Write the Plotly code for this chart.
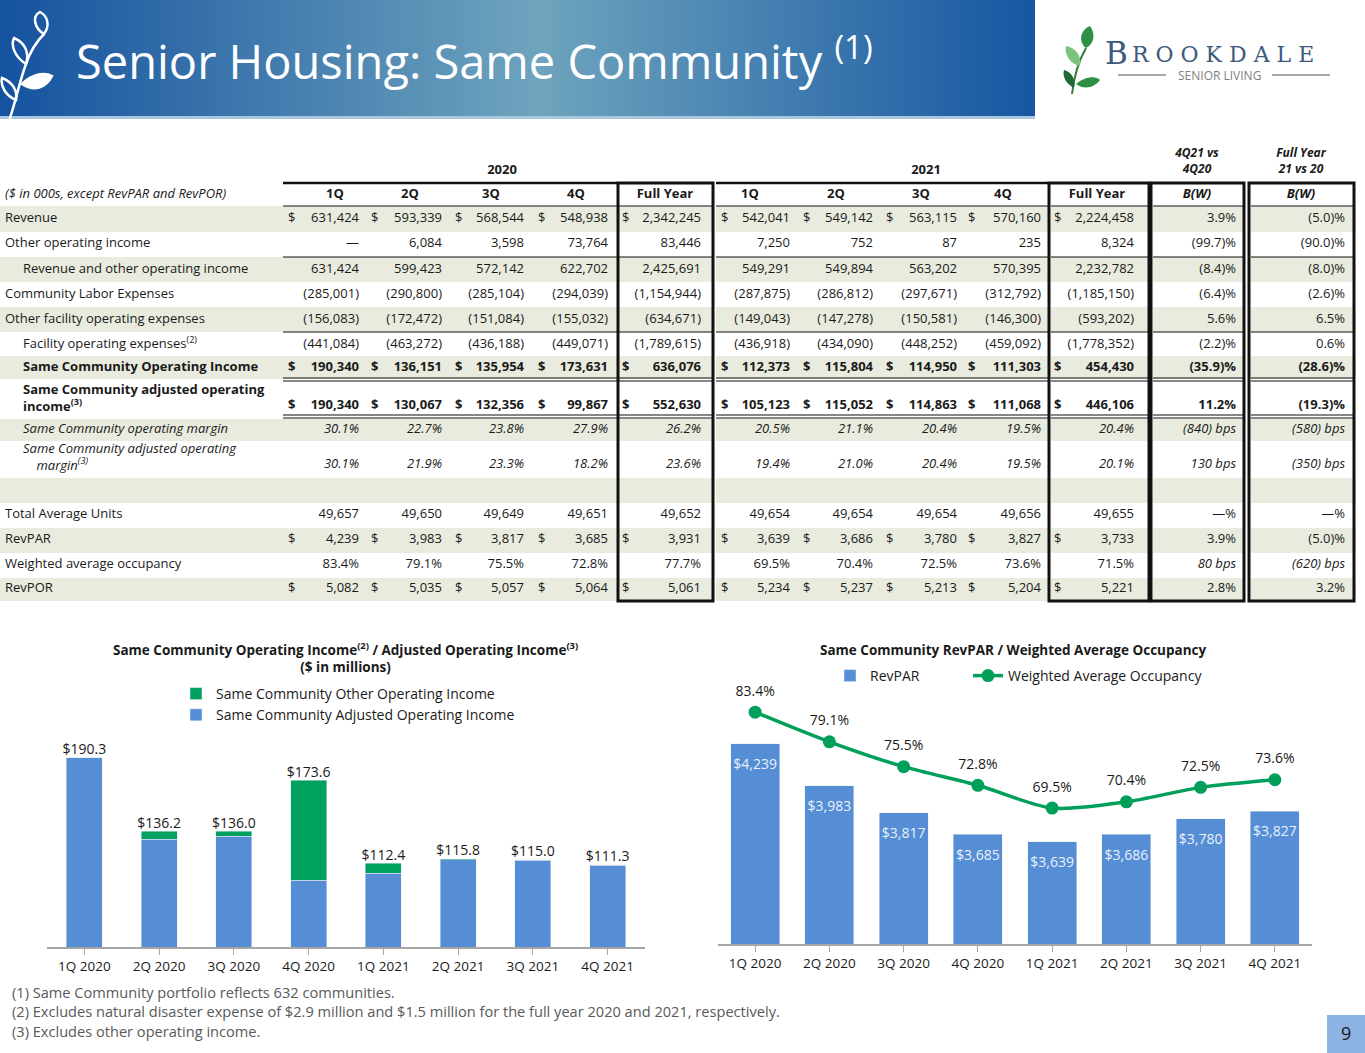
import base64
import plotly.graph_objects as go

W, H = 1365, 1053
FONT = "Open Sans"
DARK = "#1a1a1a"
BLUE = "#558ed5"
GREEN = "#00a05a"
SHADE = "#e8ebdd"

# ---- chart data ----
quarters = ["1Q 2020", "2Q 2020", "3Q 2020", "4Q 2020", "1Q 2021", "2Q 2021", "3Q 2021", "4Q 2021"]
adj_op_income = [190.3, 130.1, 132.4, 99.9, 105.1, 115.1, 114.9, 111.1]
other_op_income = [0.0, 6.1, 3.6, 73.8, 7.3, 0.8, 0.1, 0.2]
op_income_total = [190.3, 136.2, 136.0, 173.6, 112.4, 115.8, 115.0, 111.3]
revpar = [4239, 3983, 3817, 3685, 3639, 3686, 3780, 3827]
occupancy = [83.4, 79.1, 75.5, 72.8, 69.5, 70.4, 72.5, 73.6]

# ---- table data ----
col_headers = ["1Q", "2Q", "3Q", "4Q", "Full Year", "1Q", "2Q", "3Q", "4Q", "Full Year", "B(W)", "B(W)"]
revenue = ["631,424", "593,339", "568,544", "548,938", "2,342,245", "542,041", "549,142", "563,115", "570,160", "2,224,458", "3.9%", "(5.0)%"]
other_income = ["—", "6,084", "3,598", "73,764", "83,446", "7,250", "752", "87", "235", "8,324", "(99.7)%", "(90.0)%"]
rev_and_other = ["631,424", "599,423", "572,142", "622,702", "2,425,691", "549,291", "549,894", "563,202", "570,395", "2,232,782", "(8.4)%", "(8.0)%"]
labor_exp = ["(285,001)", "(290,800)", "(285,104)", "(294,039)", "(1,154,944)", "(287,875)", "(286,812)", "(297,671)", "(312,792)", "(1,185,150)", "(6.4)%", "(2.6)%"]
other_facility_exp = ["(156,083)", "(172,472)", "(151,084)", "(155,032)", "(634,671)", "(149,043)", "(147,278)", "(150,581)", "(146,300)", "(593,202)", "5.6%", "6.5%"]
facility_exp = ["(441,084)", "(463,272)", "(436,188)", "(449,071)", "(1,789,615)", "(436,918)", "(434,090)", "(448,252)", "(459,092)", "(1,778,352)", "(2.2)%", "0.6%"]
sc_op_income = ["190,340", "136,151", "135,954", "173,631", "636,076", "112,373", "115,804", "114,950", "111,303", "454,430", "(35.9)%", "(28.6)%"]
sc_adj_income = ["190,340", "130,067", "132,356", "99,867", "552,630", "105,123", "115,052", "114,863", "111,068", "446,106", "11.2%", "(19.3)%"]
sc_margin = ["30.1%", "22.7%", "23.8%", "27.9%", "26.2%", "20.5%", "21.1%", "20.4%", "19.5%", "20.4%", "(840) bps", "(580) bps"]
sc_adj_margin = ["30.1%", "21.9%", "23.3%", "18.2%", "23.6%", "19.4%", "21.0%", "20.4%", "19.5%", "20.1%", "130 bps", "(350) bps"]
avg_units = ["49,657", "49,650", "49,649", "49,651", "49,652", "49,654", "49,654", "49,654", "49,656", "49,655", "—%", "—%"]
revpar_row = ["4,239", "3,983", "3,817", "3,685", "3,931", "3,639", "3,686", "3,780", "3,827", "3,733", "3.9%", "(5.0)%"]
occupancy_row = ["83.4%", "79.1%", "75.5%", "72.8%", "77.7%", "69.5%", "70.4%", "72.5%", "73.6%", "71.5%", "80 bps", "(620) bps"]
revpor_row = ["5,082", "5,035", "5,057", "5,064", "5,061", "5,234", "5,237", "5,213", "5,204", "5,221", "2.8%", "3.2%"]

# table layout (pixel space, y down)
right_edge = [359, 442, 524, 608, 701, 790, 873, 957, 1041, 1134, 1236, 1345]
dollar_x = [288, 371, 455, 538, 622, 721, 803, 886, 968, 1054]
header_x = [335, 410, 491, 576, 665, 750, 836, 921, 1003, 1097, 1197, 1301]

# (label, values, label_y, value_y, indent, style, dollar, shaded band, bw italic)
rows = [
    ("Revenue", revenue, 219, 219, 5, "", True, (206, 232), False),
    ("Other operating income", other_income, 244, 244, 5, "", False, None, False),
    ("Revenue and other operating income", rev_and_other, 270, 270, 23, "", False, (257, 282), False),
    ("Community Labor Expenses", labor_exp, 295, 295, 5, "", False, None, False),
    ("Other facility operating expenses", other_facility_exp, 320, 320, 5, "", False, (307, 332), False),
    ("Facility operating expenses<sup>(2)</sup>", facility_exp, 345, 345, 23, "", False, None, False),
    ("Same Community Operating Income", sc_op_income, 368, 368, 23, "b", True, (356, 379), False),
    ("Same Community adjusted operating<br>income<sup>(3)</sup>", sc_adj_income, 399, 406, 23, "b", True, None, False),
    ("Same Community operating margin", sc_margin, 430, 430, 23, "i", False, (419, 441), True),
    ("Same Community adjusted operating<br>\u00a0\u00a0\u00a0\u00a0margin<sup>(3)</sup>", sc_adj_margin, 458, 465, 23, "i", False, None, True),
    ("", None, 490, 490, 5, "", False, (478, 503), False),
    ("Total Average Units", avg_units, 515, 515, 5, "", False, None, False),
    ("RevPAR", revpar_row, 540, 540, 5, "", True, (528, 553), False),
    ("Weighted average occupancy", occupancy_row, 565, 565, 5, "", False, None, True),
    ("RevPOR", revpor_row, 589, 589, 5, "", True, (578, 601), False),
]


def px(x):
    return x / W


def py(y):
    return 1 - y / H


def tag(s, style):
    if style == "b":
        return "<b>" + s + "</b>"
    if style == "i":
        return "<i>" + s + "</i>"
    return s


fig = go.Figure()

# ---- left chart: operating income ----
fig.add_trace(go.Bar(x=quarters, y=adj_op_income, name="Same Community Adjusted Operating Income",
                     marker_color=BLUE, width=0.48, legend="legend", legendrank=2,
                     xaxis="x", yaxis="y"))
fig.add_trace(go.Bar(x=quarters, y=other_op_income, name="Same Community Other Operating Income",
                     marker_color="#00a15f", width=0.48, legend="legend", legendrank=1,
                     xaxis="x", yaxis="y"))
fig.add_trace(go.Scatter(x=quarters, y=op_income_total, mode="text", cliponaxis=False,
                         text=["$%.1f" % v for v in op_income_total], textposition="top center",
                         textfont=dict(size=14, color=DARK), showlegend=False, xaxis="x", yaxis="y"))

# ---- right chart: RevPAR / occupancy ----
fig.add_trace(go.Bar(x=quarters, y=revpar, name="RevPAR", marker_color=BLUE, width=0.66,
                     legend="legend2", xaxis="x2", yaxis="y2"))
fig.add_trace(go.Scatter(x=quarters, y=revpar, mode="markers+text", cliponaxis=False,
                         marker=dict(size=22, opacity=0), text=["$" + format(v, ",") for v in revpar],
                         textposition="bottom center", textfont=dict(size=14, color="#eaf0fa"),
                         showlegend=False, xaxis="x2", yaxis="y2"))
fig.add_trace(go.Scatter(x=quarters, y=occupancy, mode="lines+markers", name="Weighted Average Occupancy",
                         line=dict(color=GREEN, width=3.5, shape="spline", smoothing=0.8),
                         marker=dict(size=13, color=GREEN), legend="legend3",
                         cliponaxis=False, xaxis="x2", yaxis="y3"))
fig.add_trace(go.Scatter(x=quarters, y=occupancy, mode="markers+text", cliponaxis=False,
                         marker=dict(size=19, opacity=0), text=["%.1f%%" % v for v in occupancy],
                         textposition="top center", textfont=dict(size=14, color=DARK),
                         showlegend=False, xaxis="x2", yaxis="y3"))

# ---- table text ----
tbl = dict(xaxis="x4", yaxis="y4", mode="text", showlegend=False, cliponaxis=False)
TF = 13

lab_x, lab_y, lab_t = [], [], []
for label, vals, ly, vy, ind, st, dol, band, bwi in rows:
    if label:
        lab_x.append(ind)
        lab_y.append(ly)
        lab_t.append(tag(label, st))
lab_x.append(5)
lab_y.append(195)
lab_t.append("<i>($ in 000s, except RevPAR and RevPOR)</i>")
fig.add_trace(go.Scatter(x=lab_x, y=lab_y, text=lab_t, textposition="middle right",
                         textfont=dict(size=TF, color=DARK), **tbl))

for j, xr in enumerate(right_edge):
    xs, ys, ts = [], [], []
    for label, vals, ly, vy, ind, st, dol, band, bwi in rows:
        if vals is None:
            continue
        s = st
        if j >= 10 and bwi:
            s = "i"
        xs.append(xr)
        ys.append(vy)
        ts.append(tag(vals[j], s))
    fig.add_trace(go.Scatter(x=xs, y=ys, text=ts, textposition="middle left",
                             textfont=dict(size=TF, color=DARK), **tbl))

dx, dy, dt = [], [], []
for label, vals, ly, vy, ind, st, dol, band, bwi in rows:
    if dol:
        for xd in dollar_x:
            dx.append(xd)
            dy.append(vy)
            dt.append(tag("$", st))
fig.add_trace(go.Scatter(x=dx, y=dy, text=dt, textposition="middle right",
                         textfont=dict(size=TF, color=DARK), **tbl))

hdr_t = ["<b>%s</b>" % h if k < 10 else "<b><i>%s</i></b>" % h for k, h in enumerate(col_headers)]
fig.add_trace(go.Scatter(x=header_x + [502, 926],
                         y=[195] * 12 + [171, 171],
                         text=hdr_t + ["<b>2020</b>", "<b>2021</b>"],
                         textposition="middle center", textfont=dict(size=TF, color=DARK), **tbl))
fig.add_trace(go.Scatter(x=[1197, 1301], y=[162, 162],
                         text=["<b><i>4Q21 vs<br>4Q20</i></b>", "<b><i>Full Year<br>21 vs 20</i></b>"],
                         textposition="middle center", textfont=dict(size=12, color=DARK), **tbl))

# ---- shapes ----
shapes = []
segments = [(0, 617), (619, 712), (716, 1048), (1051, 1148), (1153, 1243), (1251, 1353)]
for label, vals, ly, vy, ind, st, dol, band, bwi in rows:
    if band:
        for a, b in segments:
            shapes.append(dict(type="rect", xref="x4", yref="y4", x0=a, x1=b, y0=band[0], y1=band[1],
                               fillcolor=SHADE, line_width=0, layer="below"))

line_segs = [(283, 617), (619, 712), (716, 1048), (1051, 1148), (1153, 1243), (1251, 1353)]
for yl, w in [(206, 1), (257, 1.2), (332, 1.2), (378, 1.2), (381, 1.2), (415, 1.2), (418, 1.2)]:
    for a, b in line_segs:
        shapes.append(dict(type="line", xref="x4", yref="y4", x0=a, x1=b, y0=yl, y1=yl,
                           line=dict(color="#111111", width=w)))
for a, b in [(283, 617), (716, 1048)]:
    shapes.append(dict(type="line", xref="x4", yref="y4", x0=a, x1=b, y0=183, y1=183,
                       line=dict(color="#111111", width=2.5)))
for a, b in [(618, 713), (1049, 1149), (1151, 1244), (1249, 1354)]:
    shapes.append(dict(type="rect", xref="x4", yref="y4", x0=a, x1=b, y0=183, y1=601,
                       line=dict(color="#111111", width=3)))

# logo rules and page box
shapes.append(dict(type="line", xref="x4", yref="y4", x0=1118, x1=1166, y0=75, y1=75,
                   line=dict(color="#8c8c8c", width=1.5)))
shapes.append(dict(type="line", xref="x4", yref="y4", x0=1272, x1=1330, y0=75, y1=75,
                   line=dict(color="#8c8c8c", width=1.5)))
shapes.append(dict(type="rect", xref="x4", yref="y4", x0=1327, x1=1365, y0=1015, y1=1053,
                   fillcolor="#8db3e2", line_width=0))

# ---- banner graphics (decorative) ----
banner_svg = """<svg xmlns='http://www.w3.org/2000/svg' width='1035' height='120' viewBox='0 0 1035 120'>
<defs><linearGradient id='g' x1='0' x2='1' y1='0' y2='0'>
<stop offset='0' stop-color='#15529f'/><stop offset='0.52' stop-color='#6ea4bd'/>
<stop offset='1' stop-color='#1656a2'/></linearGradient></defs>
<rect width='1035' height='117' fill='url(#g)'/>
<rect y='116' width='1035' height='3' fill='#a9c7dc'/>
<g fill='none' stroke='white' stroke-width='2.5' stroke-linecap='round'>
<path d='M10 118 C 16 100, 20 80, 26 64 C 30 52, 36 42, 44 34'/>
<path d='M44 34 C 34 28, 32 16, 40 12 C 48 16, 50 26, 44 34 Z'/>
<path d='M26 64 C 16 58, 10 46, 14 38 C 24 42, 30 52, 26 64 Z'/>
<path d='M22 84 C 32 74, 44 72, 52 76 C 46 88, 34 92, 22 84 Z' fill='white'/>
<path d='M16 100 C 6 96, 0 86, 2 78 C 12 82, 18 90, 16 100 Z'/>
</g></svg>"""
logo_svg = """<svg xmlns='http://www.w3.org/2000/svg' width='40' height='70' viewBox='0 0 40 70'>
<path d='M10 68 C 12 50, 16 36, 24 22' fill='none' stroke='#2e7d3a' stroke-width='2'/>
<path d='M24 22 C 16 16, 18 4, 28 0 C 34 8, 32 18, 24 22 Z' fill='#2f8f46'/>
<path d='M18 40 C 8 38, 2 28, 4 20 C 14 22, 20 30, 18 40 Z' fill='#7cc37f'/>
<path d='M14 58 C 24 50, 34 50, 38 54 C 32 62, 22 64, 14 58 Z' fill='#2f8f46'/>
<path d='M12 62 C 4 58, 0 50, 2 44 C 10 46, 14 54, 12 62 Z' fill='#1f6b33'/>
</svg>"""


def data_uri(svg):
    return "data:image/svg+xml;base64," + base64.b64encode(svg.encode()).decode()


images = [
    dict(source=data_uri(banner_svg), xref="paper", yref="paper", x=0, y=1, sizex=px(1035), sizey=120 / H,
         xanchor="left", yanchor="top", sizing="stretch", layer="below"),
    dict(source=data_uri(logo_svg), xref="paper", yref="paper", x=px(1062), y=py(26), sizex=px(40),
         sizey=70 / H, xanchor="left", yanchor="top", sizing="stretch", layer="above"),
]

# ---- annotations ----
ann = []
ann.append(dict(x=px(74), y=py(58), xref="paper", yref="paper", xanchor="left", yanchor="middle",
                text="Senior Housing: Same Community <sup>(1)</sup>", showarrow=False,
                font=dict(family=FONT, size=47, color="white")))
ann.append(dict(x=px(1103), y=py(53), xref="paper", yref="paper", xanchor="left", yanchor="middle",
                text="B", showarrow=False, font=dict(family="DejaVu Serif", size=31, color="#3c5a7d")))
ann.append(dict(x=px(1130), y=py(55), xref="paper", yref="paper", xanchor="left", yanchor="middle",
                text="R O O K D A L E", showarrow=False, font=dict(family="DejaVu Serif", size=22, color="#3c5a7d")))
ann.append(dict(x=px(1219), y=py(75), xref="paper", yref="paper", xanchor="center", yanchor="middle",
                text="SENIOR LIVING", showarrow=False, font=dict(family=FONT, size=12, color="#7f7f7f")))
ann.append(dict(x=px(345), y=py(657), xref="paper", yref="paper", xanchor="center", yanchor="middle",
                text="<b>Same Community Operating Income<sup>(2)</sup> / Adjusted Operating Income<sup>(3)</sup></b>"
                     "<br><b>($ in millions)</b>",
                showarrow=False, font=dict(family=FONT, size=13.5, color=DARK)))
ann.append(dict(x=px(1013), y=py(650), xref="paper", yref="paper", xanchor="center", yanchor="middle",
                text="<b>Same Community RevPAR / Weighted Average Occupancy</b>",
                showarrow=False, font=dict(family=FONT, size=13.5, color=DARK)))
for t, yy in [("(1) Same Community portfolio reflects 632 communities.", 992),
              ("(2) Excludes natural disaster expense of $2.9 million and $1.5 million for the full year 2020 and 2021, respectively.", 1011),
              ("(3) Excludes other operating income.", 1031)]:
    ann.append(dict(x=px(10), y=py(yy), xref="paper", yref="paper", xanchor="left", yanchor="middle",
                    text=t, showarrow=False, font=dict(family=FONT, size=14.6, color="#595959")))
ann.append(dict(x=px(1346), y=py(1033), xref="paper", yref="paper", xanchor="center", yanchor="middle",
                text="9", showarrow=False, font=dict(family=FONT, size=18, color=DARK)))

xcat = dict(type="category", range=[-0.5, 7.5], autorange=False, showline=True, linecolor="#a6a6a6",
            linewidth=1.5, ticks="outside", ticklen=6, tickcolor="#a6a6a6", showgrid=False, zeroline=False,
            tickfont=dict(family=FONT, size=13.5, color=DARK), fixedrange=True)

leg_font = dict(family=FONT, size=14, color=DARK)

fig.update_layout(
    width=W, height=H, margin=dict(l=0, r=0, t=0, b=0),
    paper_bgcolor="white", plot_bgcolor="rgba(0,0,0,0)",
    font=dict(family=FONT, color=DARK),
    barmode="stack", hovermode=False,
    xaxis=dict(domain=[px(47), px(645)], anchor="y", **xcat),
    yaxis=dict(domain=[py(947), py(740)], range=[51, 203.2], visible=False, anchor="x", fixedrange=True),
    xaxis2=dict(domain=[px(718), px(1312)], anchor="y2", **xcat),
    yaxis2=dict(domain=[py(944), py(700)], range=[3014, 4508], visible=False, anchor="x2", fixedrange=True),
    yaxis3=dict(range=[49.8, 85.16], overlaying="y2", anchor="x2", side="right", visible=False, fixedrange=True),
    xaxis4=dict(domain=[0, 1], range=[0, W], visible=False, anchor="y4", fixedrange=True),
    yaxis4=dict(domain=[0, 1], range=[H, 0], visible=False, anchor="x4", fixedrange=True),
    legend=dict(x=px(176), y=py(678), xanchor="left", yanchor="top", orientation="v", traceorder="normal",
                font=leg_font, bgcolor="rgba(0,0,0,0)", tracegroupgap=0, itemclick=False),
    legend2=dict(x=px(830), y=py(660), xanchor="left", yanchor="top", orientation="h",
                 font=leg_font, bgcolor="rgba(0,0,0,0)", itemclick=False),
    legend3=dict(x=px(968), y=py(660), xanchor="left", yanchor="top", orientation="h",
                 font=leg_font, bgcolor="rgba(0,0,0,0)", itemclick=False),
    shapes=shapes, images=images, annotations=ann,
)

fig.write_html("out.html", config={"displayModeBar": False},
               post_script="document.body.style.margin='0';document.body.style.overflow='hidden';")
